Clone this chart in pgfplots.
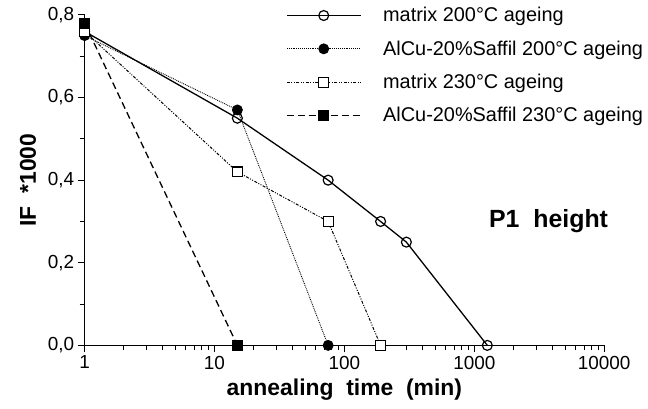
\documentclass[border=0pt]{standalone}
\usepackage{fontspec}
\setmainfont{Liberation Sans}
\usepackage{pgfplots}
\pgfplotsset{compat=1.18}
\begin{document}
\begin{tikzpicture}
\begin{axis}[
  scale only axis, width=522pt, height=332pt,
  xmode=log, xmin=1, xmax=10000, ymin=0, ymax=0.8,
  axis lines=left, axis line style={-, line width=1.4pt},
  clip=false,
  xtick={1,10,100,1000,10000}, xticklabels={1,10,100,1000,10000},
  ytick={0,0.2,0.4,0.6,0.8}, minor ytick={0.1,0.3,0.5,0.7},
  tick align=outside, major tick length=7pt, minor tick length=5pt,
  tick style={line width=1pt, black},
  yticklabel style={/pgf/number format/.cd, use comma, fixed, fixed zerofill, precision=1},
  /pgf/number format/assume math mode=true,
  ticklabel style={font=\fontsize{19}{22}\selectfont},
  xlabel={\bfseries annealing\ \ time\ \ (min)},
  ylabel={\bfseries IF\ \ *1000},
  label style={font=\fontsize{23}{27}\selectfont},
  xlabel style={yshift=-3pt},
  ylabel style={yshift=5pt},
  legend style={draw=none, fill=none, at={(0.382,1.035)}, anchor=north west,
    font=\fontsize{20}{23}\selectfont, row sep=13.5pt,
    /tikz/every odd column/.append style={column sep=20pt}},
  legend cell align=left,
  legend image code/.code={\draw[mark repeat=2,mark phase=2] plot coordinates {(0pt,0pt) (37pt,0pt) (74pt,0pt)};},
]
\addplot[black, line width=1.3pt, mark=o, mark size=5pt, mark options={solid, fill=white, line width=1.2pt}]
  coordinates {(1,0.76) (15,0.55) (75,0.40) (190,0.30) (300,0.25) (1260,0)};
\addlegendentry{matrix 200°C ageing}
\addplot[black, line width=0.9pt, densely dotted, mark=*, mark size=5pt, mark options={solid}]
  coordinates {(1,0.75) (15,0.57) (75,0)};
\addlegendentry{AlCu-20\%Saffil 200°C ageing}
\addplot[black, line width=1pt, dash pattern=on 3pt off 1.5pt on 1pt off 1.5pt on 1pt off 1.5pt, mark=square*, mark size=5pt, mark options={solid, fill=white, line width=1.2pt}]
  coordinates {(1,0.76) (15,0.42) (75,0.30) (190,0)};
\addlegendentry{matrix 230°C ageing}
\addplot[black, line width=1.3pt, dash pattern=on 7pt off 4pt, mark=square*, mark size=5pt, mark options={solid}]
  coordinates {(1,0.78) (15,0)};
\addlegendentry{AlCu-20\%Saffil 230°C ageing}
\node[font=\fontsize{25}{30}\selectfont\bfseries] at (rel axis cs:0.893,0.377) {P1\ \ height};
\end{axis}
\path (current axis.origin) ++(-85pt,-63pt) rectangle ++(648pt,410pt);
\end{tikzpicture}
\end{document}
